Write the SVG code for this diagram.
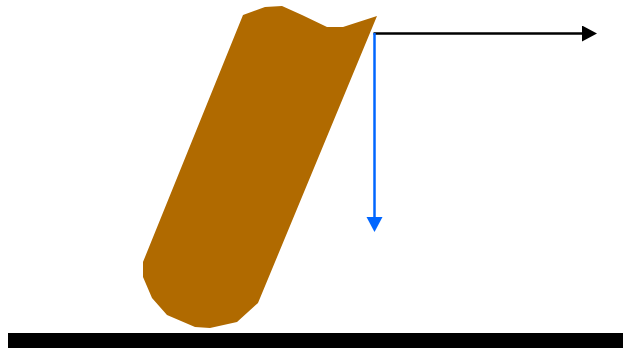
<svg xmlns="http://www.w3.org/2000/svg" width="623" height="348" viewBox="0 0 623 348">
<style>
.rod{fill:#b06a00;stroke:none}
.ground{fill:#000}
.ax{fill:none;stroke-width:2.5}
</style>
<defs>
<marker id="ab" markerUnits="userSpaceOnUse" markerWidth="16" markerHeight="17" refX="1" refY="8" orient="auto">
<path d="M0,0 L15,8 L0,16 Z" fill="#000"/>
</marker>
<marker id="au" markerUnits="userSpaceOnUse" markerWidth="16" markerHeight="17" refX="1" refY="8" orient="auto">
<path d="M0,0 L15,8 L0,16 Z" fill="#0066ff"/>
</marker>
</defs>
<g id="ground"><rect class="ground" x="8" y="333" width="615" height="15"/></g>
<g id="rod"><polygon class="rod" points="243,15 265,7 282,6 302,15 327,27 343,27 377,16 258,303 237,322 210,328 195,327 167,315 152,298 143,277 143,262"/></g>
<g id="connectors">
<line class="ax" x1="373.5" y1="33.5" x2="583" y2="33.5" stroke="#000" marker-end="url(#ab)"/>
<line class="ax" x1="374.5" y1="33" x2="374.5" y2="218" stroke="#0066ff" marker-end="url(#au)"/>
</g>
</svg>
